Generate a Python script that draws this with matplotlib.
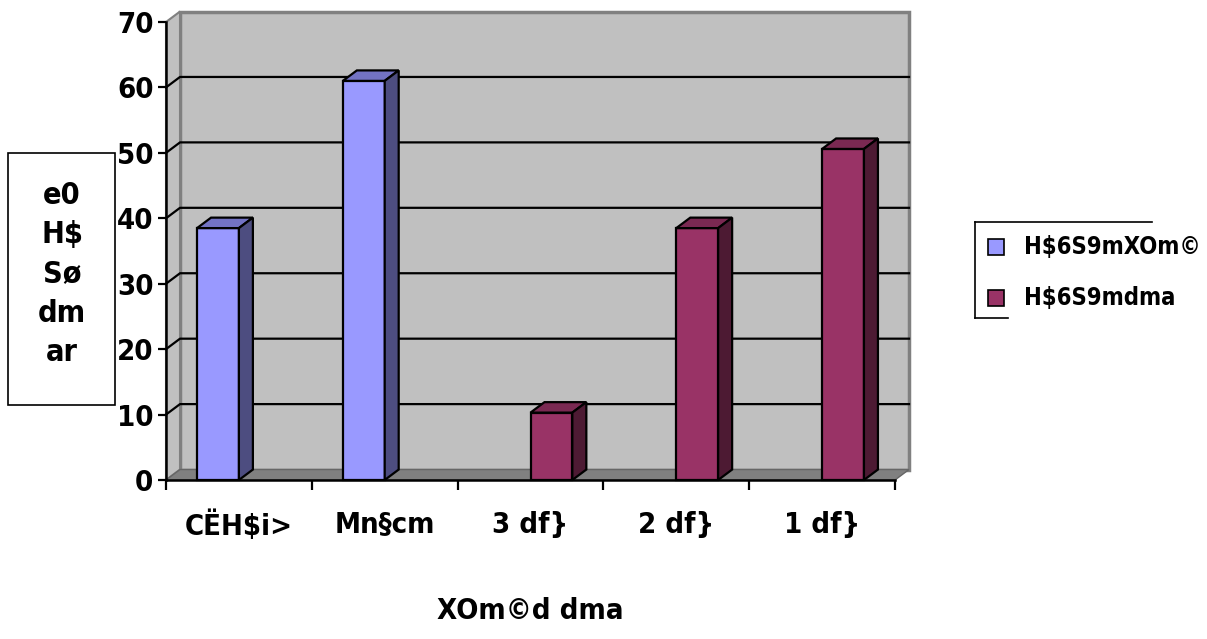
import matplotlib
matplotlib.use("Agg")
import matplotlib.pyplot as plt
from matplotlib.patches import Polygon, Rectangle

# data
categories = ["CËH$i>", "Mn§cm", "3 df}", "2 df}", "1 df}"]
series_names = ["H$6S9mXOm©", "H$6S9mdma"]
blue_vals = [38.5, 61.0, None, None, None]
red_vals = [None, None, 10.3, 38.5, 50.6]
y_ticks = [0, 10, 20, 30, 40, 50, 60, 70]
ylabel_lines = ["e0", "H$", "Sø", "dm", "ar"]
xlabel = "XOm©d dma"

plt.rcParams["font.family"] = ["Liberation Sans Narrow", "DejaVu Sans"]
plt.rcParams["font.weight"] = "bold"
plt.rcParams["font.stretch"] = "condensed"

fig = plt.figure(figsize=(12.07, 6.39), dpi=100)
ax = fig.add_axes([166 / 1207, 1 - 480 / 639, (895 - 166) / 1207, (480 - 22) / 639])
ax.set_xlim(0, 5)
ax.set_ylim(0, 70)
ax.patch.set_alpha(0)

# depth of the fake 3d box, in data units
DX = 0.096
DY = 1.6
n = len(categories)
top = 70

wall_col = "#c0c0c0"
edge_grey = "#808080"
ax.add_patch(Polygon([(DX, DY), (n + DX, DY), (n + DX, top + DY), (DX, top + DY)],
                     closed=True, fc=wall_col, ec=edge_grey, lw=2.5, zorder=0, clip_on=False))
ax.add_patch(Polygon([(0, 0), (DX, DY), (DX, top + DY), (0, top)],
                     closed=True, fc=wall_col, ec=edge_grey, lw=1.5, zorder=0, clip_on=False))
ax.add_patch(Polygon([(0, 0), (n, 0), (n + DX, DY), (DX, DY)],
                     closed=True, fc="#808080", ec="#666666", lw=1, zorder=0.5, clip_on=False))

for v in y_ticks[1:-1]:
    ax.plot([0, DX, n + DX], [v, v + DY, v + DY], color="black", lw=1.6, zorder=1,
            clip_on=False)


def bar3d(x0, w, h, front, topc, side):
    kw = dict(closed=True, ec="black", lw=1.6, zorder=3, clip_on=False, joinstyle="miter")
    ax.add_patch(Polygon([(x0, 0), (x0 + w, 0), (x0 + w, h), (x0, h)], fc=front, **kw))
    ax.add_patch(Polygon([(x0, h), (x0 + w, h), (x0 + w + DX, h + DY), (x0 + DX, h + DY)],
                         fc=topc, **kw))
    ax.add_patch(Polygon([(x0 + w, 0), (x0 + w + DX, DY), (x0 + w + DX, h + DY), (x0 + w, h)],
                         fc=side, **kw))


bw = 0.287
blue = ("#9999ff", "#7373c4", "#4d4d80")
red = ("#993366", "#7a2952", "#4d1a33")
for i in range(n):
    if blue_vals[i] is not None:
        bar3d(i + 0.5 - bw, bw, blue_vals[i], *blue)
    if red_vals[i] is not None:
        bar3d(i + 0.5, bw, red_vals[i], *red)

for s in ["top", "right"]:
    ax.spines[s].set_visible(False)
for s in ["left", "bottom"]:
    ax.spines[s].set_linewidth(1.8)
    ax.spines[s].set_zorder(4)
ax.set_yticks(y_ticks)
ax.set_yticklabels([str(v) for v in y_ticks], fontsize=21, fontweight="bold")
ax.tick_params(axis="y", direction="out", length=6, width=1.6, pad=3)
ax.set_xticks(range(n + 1))
ax.set_xticklabels([""] * (n + 1))
ax.tick_params(axis="x", which="major", direction="out", length=7, width=1.6)
ax.set_xticks([i + 0.5 for i in range(n)], minor=True)
ax.set_xticklabels(categories, minor=True, fontsize=21, fontweight="bold")
ax.tick_params(axis="x", which="minor", length=0, pad=22)
ax.set_xlabel(xlabel, fontsize=21, fontweight="bold", labelpad=40)

# boxed y title
fig.patches.append(Rectangle((8 / 1207, 1 - 405 / 639), 107 / 1207, 252 / 639,
                             transform=fig.transFigure, fc="white", ec="black", lw=1.2))
fig.text(62 / 1207, 1 - 274 / 639, "\n".join(ylabel_lines), ha="center", va="center",
         fontsize=22, fontweight="bold", linespacing=1.45)

# legend drawn by hand (box partly hidden by the text)
lx0, ly0 = 975 / 1207, 1 - 222 / 639
ly1 = 1 - 318 / 639
fig.add_artist(plt.Line2D([lx0, 1152 / 1207], [ly0, ly0], color="black", lw=1.2))
fig.add_artist(plt.Line2D([lx0, lx0], [ly0, ly1], color="black", lw=1.2))
fig.add_artist(plt.Line2D([lx0, 1008 / 1207], [ly1, ly1], color="black", lw=1.2))
for k, (name, col) in enumerate(zip(series_names, [blue[0], red[0]])):
    yc = 247 + k * 51
    fig.patches.append(Rectangle((988 / 1207, 1 - (yc + 8) / 639), 16 / 1207, 16 / 639,
                                 transform=fig.transFigure, fc=col, ec="black", lw=1.2))
    fig.text(1024 / 1207, 1 - yc / 639, name, ha="left", va="center", fontsize=17,
             fontweight="bold")

fig.savefig("out.png", dpi=100)
